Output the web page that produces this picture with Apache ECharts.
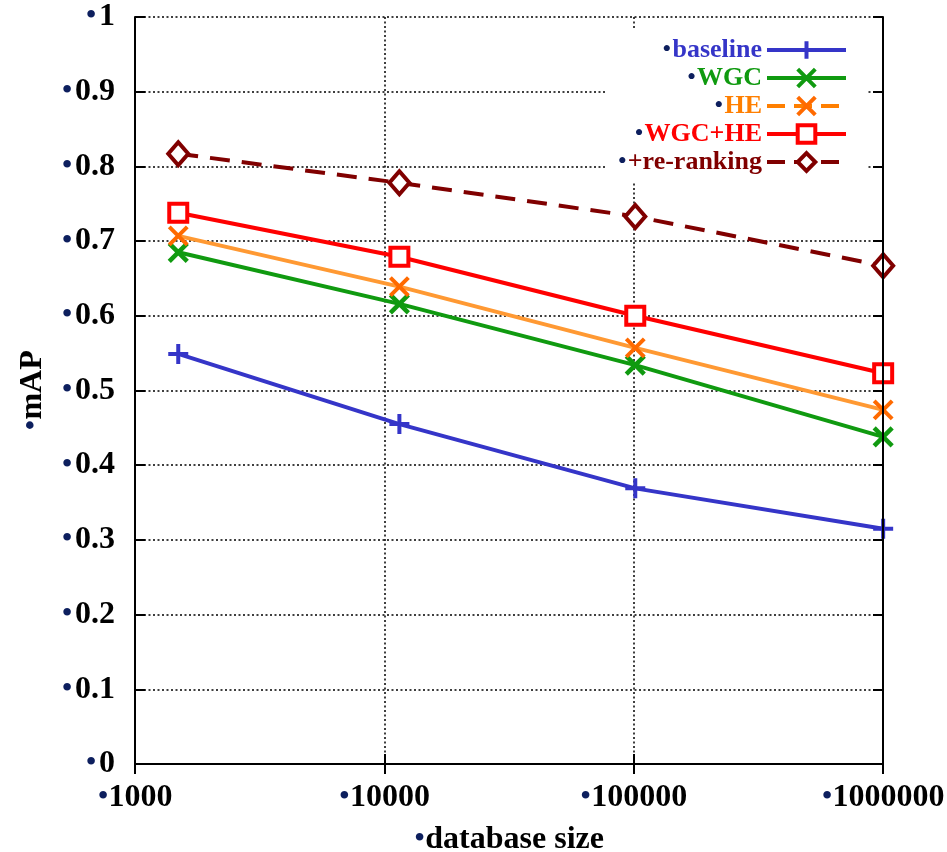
<!DOCTYPE html>
<html>
<head>
<meta charset="UTF-8">
<title>mAP vs database size</title>
<script src="https://cdn.jsdelivr.net/npm/echarts@6/dist/echarts.min.js"></script>
<style>
    html, body { margin: 0; padding: 0; background: #fff; }
    #main { width: 947px; height: 852px; }
</style>
</head>
<body>
<div id="main"></div>
<script>
// data
var dbSizes = [1491, 11491, 101491, 1001491];
var seriesNames = ['baseline', 'WGC', 'HE', 'WGC+HE', '+re-ranking'];
var baseline = [0.549, 0.455, 0.369, 0.315];
var wgc = [0.685, 0.616, 0.534, 0.438];
var he = [0.707, 0.639, 0.557, 0.474];
var wgcHe = [0.738, 0.679, 0.600, 0.523];
var reRanking = [0.817, 0.778, 0.733, 0.667];
var xTickLabels = ['1000', '10000', '100000', '1000000'];

var serif = '"Liberation Serif", "DejaVu Serif", serif';
var dotColor = '#0d1f5e';
var textColors = ['#3535c8', '#109a10', '#ff7f00', '#ff0000', '#800000'];

function pairs(ys) {
    return dbSizes.map(function (x, i) { return [x, ys[i]]; });
}

var legendRich = { d: { color: dotColor, fontSize: 26, fontFamily: serif, padding: [0, 1, 0, 0] } };
textColors.forEach(function (c, i) {
    legendRich['s' + i] = { color: c, fontSize: 26, fontWeight: 'bold', fontFamily: serif };
});

// label styles: navy bullet + bold serif text
var labelRich = {
    d: { color: dotColor, fontSize: 32, fontFamily: serif },
    t: { color: '#000', fontSize: 32, fontWeight: 'bold', fontFamily: serif }
};

var myChart = echarts.init(document.getElementById('main'));

var dotted = { color: '#000', width: 1.5, type: [2, 2.5] };

var option = {
    backgroundColor: '#fff',
    animation: false,
    grid: { left: 135, right: 64, top: 17, bottom: 88, outerBoundsMode: 'none' },
    legend: {
        orient: 'vertical',
        align: 'right',
        right: 79,
        top: 29,
        padding: [8, 20, 8, 12],
        itemWidth: 79,
        itemHeight: 22,
        itemGap: 2,
        backgroundColor: '#fff',
        lineStyle: { width: 4 },
        itemStyle: { borderWidth: 4 },
        data: [
            { name: 'baseline' },
            { name: 'WGC' },
            { name: 'HE', lineStyle: { type: [18, 9], color: '#ff7f00' } },
            { name: 'WGC+HE' },
            { name: '+re-ranking', lineStyle: { type: [18, 9] } }
        ],
        formatter: function (name) {
            return '{d|•}{s' + seriesNames.indexOf(name) + '|' + name + '}';
        },
        textStyle: { fontSize: 26, rich: legendRich }
    },
    xAxis: [{
        type: 'log',
        logBase: 10,
        min: 1000,
        max: 1000000,
        name: '{d|•}{t|database size}',
        nameLocation: 'middle',
        nameGap: 60,
        nameTextStyle: { rich: labelRich },
        axisLine: { lineStyle: { color: '#000', width: 2 } },
        axisTick: { inside: true, length: 10, lineStyle: { color: '#000', width: 2 } },
        splitLine: { show: true, lineStyle: dotted },
        axisLabel: {
            margin: 18,
            formatter: function (v) {
                var k = Math.round(Math.log10(v)) - 3;
                return '{d|•}{t|' + xTickLabels[k] + '}';
            },
            rich: labelRich
        }
    }, {
        type: 'log',
        logBase: 10,
        min: 1000,
        max: 1000000,
        position: 'top',
        z: 5,
        axisLine: { lineStyle: { color: '#000', width: 2 } },
        axisTick: { inside: true, length: 10, lineStyle: { color: '#000', width: 2 } },
        axisLabel: { show: false },
        splitLine: { show: false }
    }],
    yAxis: [{
        type: 'value',
        min: 0,
        max: 1,
        interval: 0.1,
        name: '{d|•}{t|mAP}',
        nameLocation: 'middle',
        nameGap: 86,
        nameTextStyle: { rich: labelRich },
        axisLine: { lineStyle: { color: '#000', width: 2 } },
        axisTick: { inside: true, length: 10, lineStyle: { color: '#000', width: 2 } },
        splitLine: { show: true, lineStyle: dotted },
        axisLabel: {
            margin: 20,
            formatter: function (v) {
                return '{d|•}{s| }{t|' + (Math.round(v * 10) / 10) + '}';
            },
            rich: {
                d: labelRich.d,
                s: { fontSize: 8 },
                t: labelRich.t
            }
        }
    }, {
        type: 'value',
        min: 0,
        max: 1,
        interval: 0.1,
        position: 'right',
        z: 5,
        axisLine: { show: true, lineStyle: { color: '#000', width: 2 } },
        axisTick: { show: true, inside: true, length: 10, lineStyle: { color: '#000', width: 2 } },
        axisLabel: { show: false },
        splitLine: { show: false }
    }],
    series: [{
        name: 'baseline',
        type: 'line',
        data: pairs(baseline),
        clip: false,
        symbol: 'path://M5,0L5,10M0,5L10,5',
        symbolSize: 20,
        lineStyle: { color: '#3535c8', width: 4 },
        itemStyle: { color: '#3535c8', borderColor: '#3535c8', borderWidth: 4 }
    }, {
        name: 'WGC',
        type: 'line',
        data: pairs(wgc),
        clip: false,
        symbol: 'path://M0,0L10,10M10,0L0,10',
        symbolSize: 18,
        lineStyle: { color: '#109a10', width: 4 },
        itemStyle: { color: '#109a10', borderColor: '#109a10', borderWidth: 4.5 }
    }, {
        name: 'HE',
        type: 'line',
        data: pairs(he),
        clip: false,
        symbol: 'path://M0,0L10,10M10,0L0,10',
        symbolSize: 18,
        lineStyle: { color: '#ff9933', width: 4 },
        itemStyle: { color: '#ff6a00', borderColor: '#ff6a00', borderWidth: 4 }
    }, {
        name: 'WGC+HE',
        type: 'line',
        data: pairs(wgcHe),
        clip: false,
        symbol: 'rect',
        symbolSize: 18,
        lineStyle: { color: '#ff0000', width: 4 },
        itemStyle: { color: '#fff', borderColor: '#ff0000', borderWidth: 4 }
    }, {
        name: '+re-ranking',
        type: 'line',
        data: pairs(reRanking),
        clip: false,
        symbol: 'diamond',
        symbolSize: [20, 23],
        lineStyle: { color: '#800000', width: 4, type: [20, 12] },
        itemStyle: { color: '#fff', borderColor: '#800000', borderWidth: 4 }
    }]
};
myChart.setOption(option);
</script>
</body>
</html>
